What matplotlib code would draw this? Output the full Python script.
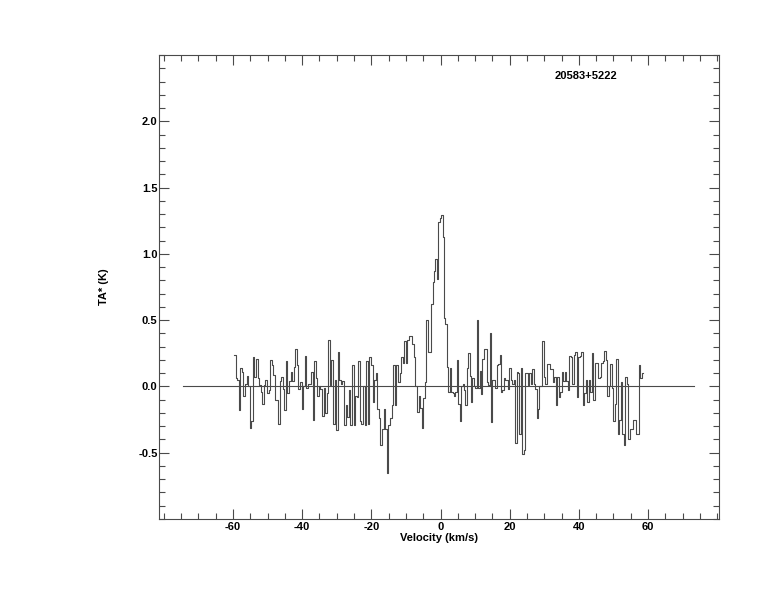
import numpy as np
import matplotlib
matplotlib.use("Agg")
import matplotlib.pyplot as plt
from matplotlib.ticker import MultipleLocator

# spectrum in four blocks of channels
spec_a = [0.24, 0.065, 0.05, -0.18, 0.14, 0.11, -0.07, 0.02, 0.08, 0.0,
          -0.31, -0.26, 0.22, 0.07, 0.21, 0.06, 0.01, -0.04, -0.13, 0.01,
          0.05, -0.05, -0.03, 0.20, 0.16, 0.09, -0.10, -0.10, -0.28, 0.04,
          0.07, -0.02, -0.18, 0.19, -0.05, 0.04, 0.11, 0.04, 0.15, 0.28,
          0.16, -0.02, 0.03, -0.17, 0.0, 0.23, -0.01, 0.02, 0.02, 0.11,
          -0.25, 0.19, 0.06, -0.07, 0.0, -0.02, -0.22, -0.01, -0.20, -0.05,
          0.35, 0.01, 0.20]
spec_b = [-0.28, 0.05, -0.33, 0.26, 0.05, 0.02, 0.04, -0.29, -0.14, -0.23,
          -0.03, -0.29, 0.16, -0.29, -0.07, -0.08, 0.19, -0.26, -0.28, 0.0,
          -0.29, 0.19, -0.28, 0.22, 0.16, -0.12, 0.05, 0.10, -0.17, -0.24,
          -0.44, -0.32, -0.17, -0.32, -0.65, -0.29, -0.24, -0.14, 0.16, -0.14,
          0.16, 0.03, 0.10, 0.22, 0.18, 0.34, 0.18, 0.35, 0.38, 0.38,
          0.32, 0.22, 0.0, -0.19, -0.07, -0.16, -0.31, -0.09, 0.03, 0.50,
          0.26, 0.26]
spec_c = [0.62, 0.79, 0.87,
          0.96, 0.81, 1.24, 1.27, 1.29, 1.13, 0.52, 0.47, 0.15, -0.04,
          0.14, -0.04, -0.05, -0.07, -0.04, 0.20, -0.13, -0.26, 0.0, 0.02,
          -0.03, -0.14, 0.14, 0.25, 0.08, -0.12, 0.06, 0.0, -0.01, 0.50,
          -0.01, 0.12, -0.06, 0.21, 0.28, 0.28, 0.03, 0.01, 0.40, -0.27,
          0.05, 0.05, -0.01, 0.16, 0.17, 0.24, -0.04, -0.03, 0.06, 0.05,
          0.05, -0.02, 0.14, 0.05, 0.02, 0.05, -0.43, 0.11, 0.10, -0.36,
          0.14, -0.51, -0.48, 0.10, 0.10, 0.01, 0.10, 0.02, 0.13, 0.02,
          -0.02, -0.24, -0.17, 0.0, 0.0]
spec_d = [0.34, 0.07, 0.02, 0.17, 0.17, 0.13, 0.13, 0.03, 0.07, -0.14,
          0.07, -0.08, -0.04, 0.11, 0.04, 0.11, 0.04, -0.03, 0.23, 0.22,
          0.02, 0.24, 0.26, -0.08, 0.22, 0.23, 0.26, -0.14, -0.05, 0.05,
          -0.12, 0.05, -0.04, 0.25, -0.10, 0.18, 0.18, 0.06, 0.07, 0.18,
          0.19, 0.27, 0.20, -0.07, 0.0, 0.17, -0.01, -0.26, -0.13, 0.21,
          -0.36, -0.25, 0.03, -0.36, -0.44, 0.07, 0.02, -0.40, -0.32, -0.32,
          -0.25, -0.25, -0.36, -0.36, 0.16, 0.06, 0.10]
# velocity (km/s) at the edges of the four blocks
block_edges = [-59.7, -31.1, -2.7, 29.4, 58.6]

baseline_range = [-74.5, 73.3]
source_name = "20583+5222"
x_ticks = [-60, -40, -20, 0, 20, 40, 60]
y_ticks = [-0.5, 0.0, 0.5, 1.0, 1.5, 2.0]

vel = []
flux = []
blocks = [spec_a, spec_b, spec_c, spec_d]
for i, blk in enumerate(blocks):
    v = np.linspace(block_edges[i], block_edges[i + 1], len(blk) + 1)[:-1]
    vel.extend(v)
    flux.extend(blk)
vel.append(block_edges[-1])
flux.append(flux[-1])

plt.rcParams['font.family'] = ['Liberation Sans', 'DejaVu Sans']
plt.rcParams['font.weight'] = 'bold'
plt.rcParams['font.size'] = 8
plt.rcParams['axes.unicode_minus'] = False

fig = plt.figure(figsize=(7.74, 6.12), dpi=100)
ax = fig.add_axes([0.2054, 0.152, 0.7235, 0.758])

col = '#4a4a4a'
ax.plot(vel, flux, drawstyle='steps-post', color=col, lw=0.8)
ax.plot(baseline_range, [0, 0], color=col, lw=0.8)

ax.set_xlim(-81.4, 80.5)
ax.set_ylim(-1.0, 2.5)
ax.set_xticks(x_ticks)
ax.set_yticks(y_ticks)
ax.set_yticklabels(["%.1f" % t for t in y_ticks])
ax.xaxis.set_minor_locator(MultipleLocator(5))
ax.yaxis.set_minor_locator(MultipleLocator(0.1))
ax.tick_params(which='both', direction='in', top=True, right=True, color=col, width=0.8)
ax.tick_params(which='major', length=7)
ax.tick_params(which='minor', length=4)
ax.tick_params(axis='x', pad=2)
ax.tick_params(axis='y', pad=1)
for s in ax.spines.values():
    s.set_color(col)
    s.set_linewidth(0.8)

ax.set_xlabel("Velocity (km/s)", fontweight='bold', labelpad=1)
ax.set_ylabel("TA* (K)", fontweight='bold', labelpad=21)
ax.text(42, 2.34, source_name, ha='center', va='center', fontweight='bold')

fig.savefig("out.png", dpi=100)
